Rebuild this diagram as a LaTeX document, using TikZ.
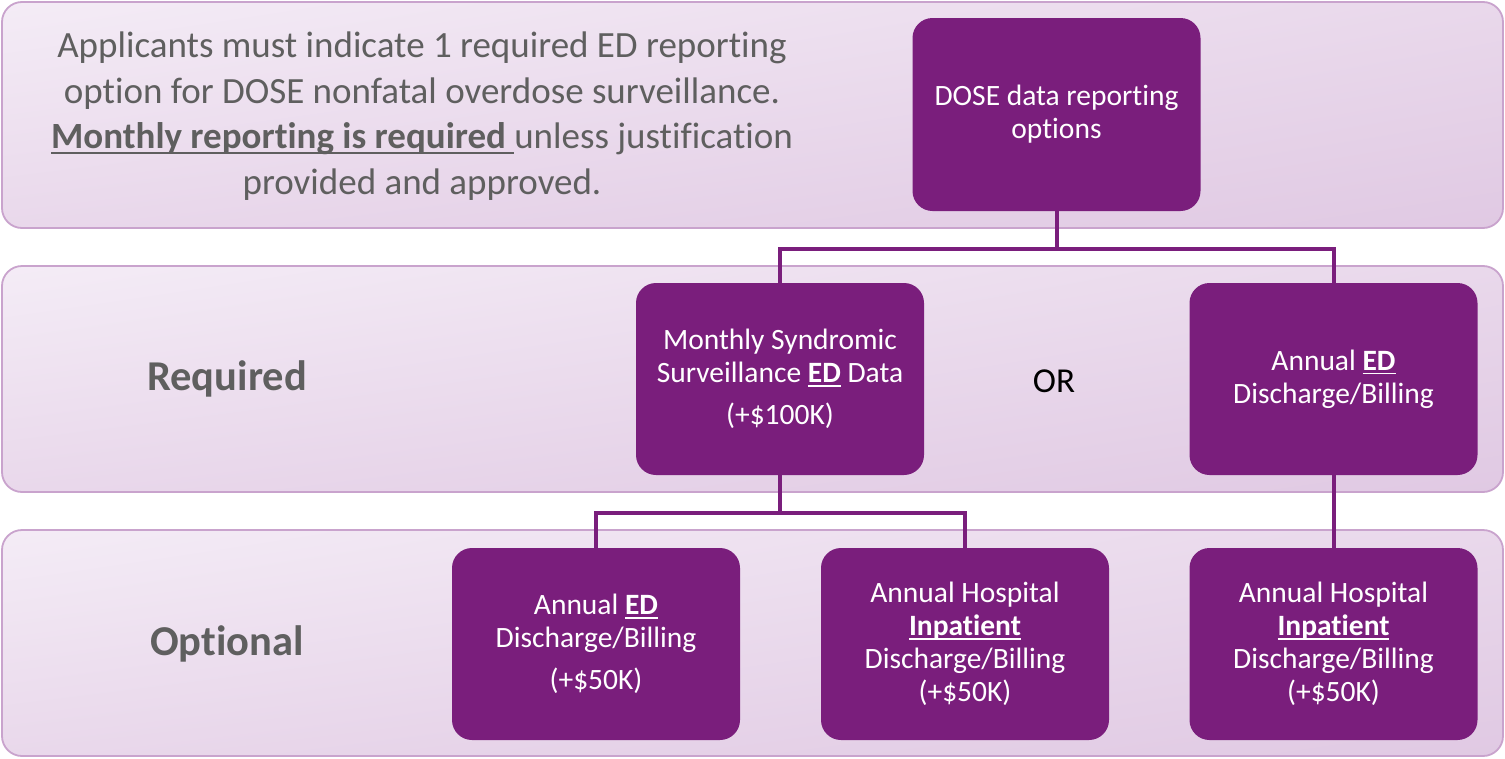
\documentclass[tikz,border=0pt]{standalone}
\usepackage{fontspec}
\usetikzlibrary{shadings}
\setmainfont{Carlito}[Ligatures={NoCommon,NoContextual}]
\definecolor{boxpurple}{HTML}{7A1E7C}
\definecolor{bandline}{HTML}{C9A3CD}
\definecolor{bandA}{HTML}{F4ECF6}
\definecolor{bandB}{HTML}{E9D8EB}
\definecolor{bandC}{HTML}{E0C9E3}
\definecolor{graytext}{HTML}{5F5F5F}
\newcommand\undl[1]{\leavevmode\setbox0\hbox{#1}\rlap{\vrule height -0.08em depth 0.13em width \wd0}\box0\relax}
\tikzset{
  band/.style={draw=bandline, line width=1.8pt, rounded corners=20pt,
    upper left=bandA, upper right=bandB, lower left=bandB, lower right=bandC},
  optbox/.style={fill=boxpurple, rounded corners=20pt, minimum width=288pt, minimum height=192pt,
    text=white, align=center, font=\fontsize{29.5}{33}\selectfont, inner sep=0pt},
  conn/.style={draw=boxpurple, line width=4pt},
  rowlabel/.style={text=graytext, font=\fontsize{42.5}{50}\selectfont\bfseries}
}
\begin{document}
\begin{tikzpicture}[x=1pt,y=-1pt]
\useasboundingbox (0,0) rectangle (1505,758);
\fill[white] (0,0) rectangle (1505,758);
% bands
\shade[band] (2,2) rectangle (1503,228);
\shade[band] (2,266) rectangle (1503,492);
\shade[band] (2,530) rectangle (1503,756);
% texts
\node[text=graytext, align=center, font=\fontsize{37}{45.7}\selectfont] (intro) at (422,116)
  {Applicants must indicate 1 required ED reporting\\
   option for DOSE nonfatal overdose surveillance.\\
   \undl{\bfseries Monthly reporting is required }unless justification\\
   provided and approved.};
\node[rowlabel] (req) at (227,379) {Required};
\node[rowlabel] (opt) at (227,644) {Optional};
\node[font=\fontsize{35}{40}\selectfont] (or) at (1054,381) {OR};
% boxes
\node[optbox, minimum height=193pt] (dose) at (1056.5,114.5) {DOSE data reporting\\options};
\node[optbox] (mon) at (780,379) {Monthly Syndromic\\Surveillance \undl{\bfseries ED} Data\\[9pt](+\$100K)};
\node[optbox] (anned) at (1333.5,379) {Annual \undl{\bfseries ED}\\Discharge/Billing};
\node[optbox] (oed) at (596,644) {Annual \undl{\bfseries ED}\\Discharge/Billing\\[9pt](+\$50K)};
\node[optbox] (oinp) at (965,644) {Annual Hospital\\\undl{\bfseries Inpatient}\\Discharge/Billing\\(+\$50K)};
\node[optbox] (rinp) at (1333.5,644) {Annual Hospital\\\undl{\bfseries Inpatient}\\Discharge/Billing\\(+\$50K)};
% connectors
\draw[conn] (dose.south) -- ++(0,38) -| (mon.north);
\draw[conn] (dose.south) -- ++(0,38) -| (anned.north);
\draw[conn] (mon.south) -- ++(0,38) -| (oed.north);
\draw[conn] (mon.south) -- ++(0,38) -| (oinp.north);
\draw[conn] (anned.south) -- (rinp.north);
\end{tikzpicture}
\end{document}
